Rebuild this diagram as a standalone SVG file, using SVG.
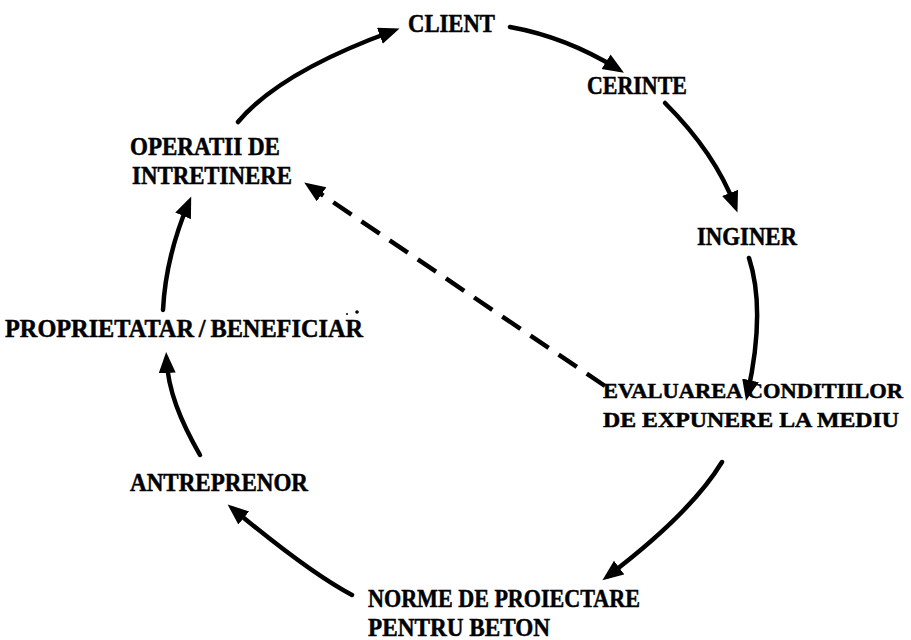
<svg xmlns="http://www.w3.org/2000/svg" width="911" height="640" viewBox="0 0 911 640">
  <style>
    .lbl { font-family: "Liberation Serif", "Times New Roman", serif; font-size: 25px; font-weight: bold; fill: #000; stroke: #000; stroke-width: 0.5; }
    .lbl.narrow { font-size: 22px; }
    .arc { fill: none; stroke: #000; stroke-width: 4.5; stroke-linecap: round; marker-end: url(#head); }
    .dash { fill: none; stroke: #000; stroke-width: 4.5; stroke-dasharray: 22 12; marker-end: url(#head); }
  </style>
  <defs>
    <marker id="head" markerUnits="userSpaceOnUse" markerWidth="22" markerHeight="18" refX="14" refY="8.5" orient="auto">
      <path d="M0,0 L21,8.5 L0,17 Z" fill="#000"/>
    </marker>
  </defs>
  <rect width="911" height="640" fill="#fff"/>

  <!-- cycle connectors -->
  <g id="connectors">
    <path class="arc" d="M238,122 Q280,72 393,31"/>
    <path class="arc" d="M510,27 Q566,37 618,69"/>
    <path class="arc" d="M665,103 Q715,153 735,206"/>
    <path class="arc" d="M749,258 Q766,310 747.5,394"/>
    <path class="arc" d="M722,462 Q691,513 608,576"/>
    <path class="arc" d="M352,595 Q310,573 233,509"/>
    <path class="arc" d="M200,455 C180,420 168,390 166.5,359"/>
    <path class="arc" d="M163,310 C165,270 175,235 188.5,203"/>
    <path class="dash" d="M605,386 L310,186.5"/>
  </g>

  <g id="client"><text class="lbl" x="408" y="32" textLength="87" lengthAdjust="spacingAndGlyphs">CLIENT</text></g>
  <g id="cerinte"><text class="lbl" x="587" y="94" textLength="100" lengthAdjust="spacingAndGlyphs">CERINTE</text></g>
  <g id="inginer"><text class="lbl" x="697" y="245" textLength="100" lengthAdjust="spacingAndGlyphs">INGINER</text></g>
  <g id="evaluarea">
    <text class="lbl narrow" x="603" y="398" textLength="300" lengthAdjust="spacingAndGlyphs">EVALUAREA CONDITIILOR</text>
    <text class="lbl narrow" x="603" y="427" textLength="296" lengthAdjust="spacingAndGlyphs">DE EXPUNERE LA MEDIU</text>
  </g>
  <g id="norme">
    <text class="lbl" x="368" y="607" textLength="272" lengthAdjust="spacingAndGlyphs">NORME DE PROIECTARE</text>
    <text class="lbl" x="368" y="636" textLength="182" lengthAdjust="spacingAndGlyphs">PENTRU BETON</text>
  </g>
  <g id="antreprenor"><text class="lbl" x="130" y="491" textLength="178" lengthAdjust="spacingAndGlyphs">ANTREPRENOR</text></g>
  <g id="proprietatar">
    <text class="lbl" x="5" y="337" textLength="358" lengthAdjust="spacingAndGlyphs">PROPRIETATAR<tspan dx="5">/</tspan><tspan dx="5">BENEFICIAR</tspan></text>
    <circle cx="347" cy="314" r="1" fill="#000"/>
    <circle cx="357" cy="312" r="1.8" fill="#000"/>
  </g>
  <g id="operatii">
    <text class="lbl" x="130" y="155" textLength="150" lengthAdjust="spacingAndGlyphs">OPERATII DE</text>
    <text class="lbl" x="132" y="184" textLength="160" lengthAdjust="spacingAndGlyphs">INTRETINERE</text>
  </g>
</svg>
